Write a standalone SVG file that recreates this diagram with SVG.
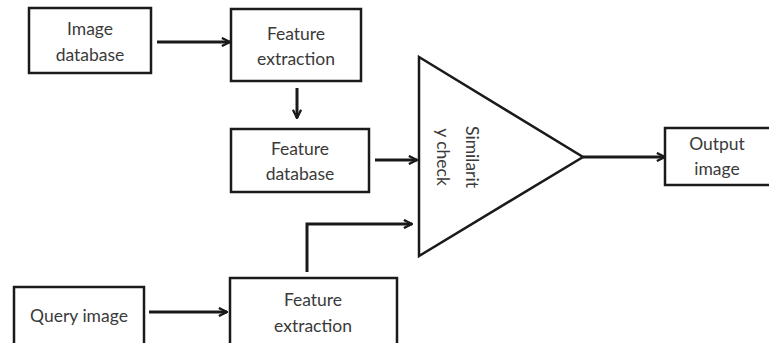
<svg xmlns="http://www.w3.org/2000/svg" width="769" height="343" viewBox="0 0 769 343">
  <style>
    .box { fill: #ffffff; stroke: #1a1a1a; stroke-width: 2.5; }
    .lbl { font-family: Lato, "Liberation Sans", sans-serif; font-size: 17.5px; fill: #3a3a3a; text-anchor: middle; }
    .wire { fill: none; stroke: #1a1a1a; stroke-width: 3; marker-end: url(#head); }
  </style>
  <defs>
    <marker id="head" viewBox="0 0 10 10" refX="9" refY="5" markerWidth="3.4" markerHeight="3.4" orient="auto" markerUnits="strokeWidth">
      <path d="M1,1 L9,5 L1,9" fill="none" stroke="#1a1a1a" stroke-width="2.2" stroke-linejoin="miter"/>
    </marker>
  </defs>
  <rect width="769" height="343" fill="#ffffff"/>

  <g id="image-database">
    <rect class="box" x="29" y="8" width="122" height="65"/>
    <text class="lbl" x="90" y="35">Image</text>
    <text class="lbl" x="90" y="61">database</text>
  </g>

  <g id="feature-extraction-top">
    <rect class="box" x="231" y="9" width="130" height="72"/>
    <text class="lbl" x="296" y="40">Feature</text>
    <text class="lbl" x="296" y="65">extraction</text>
  </g>

  <g id="feature-database">
    <rect class="box" x="231" y="129" width="138" height="63"/>
    <text class="lbl" x="300" y="155">Feature</text>
    <text class="lbl" x="300" y="180">database</text>
  </g>

  <g id="similarity-check">
    <polygon class="box" points="419,57 583,157 419,256" stroke-width="3" stroke-linejoin="miter"/>
    <g transform="translate(457,157) rotate(90)">
      <text class="lbl" x="0" y="-9">Similarit</text>
      <text class="lbl" x="0" y="20">y check</text>
    </g>
  </g>

  <g id="output-image">
    <rect class="box" x="665" y="128" width="110" height="57"/>
    <text class="lbl" x="717" y="150">Output</text>
    <text class="lbl" x="717" y="175">image</text>
  </g>

  <g id="query-image">
    <rect class="box" x="14" y="287" width="130" height="62"/>
    <text class="lbl" x="79" y="322">Query image</text>
  </g>

  <g id="feature-extraction-bottom">
    <rect class="box" x="230" y="278" width="167" height="70"/>
    <text class="lbl" x="313" y="306">Feature</text>
    <text class="lbl" x="313" y="332">extraction</text>
  </g>

  <g id="connectors">
    <path class="wire" d="M157,42 H230"/>
    <path class="wire" d="M297,88 V118"/>
    <path class="wire" d="M375,160 H417"/>
    <path class="wire" d="M307,272 V224 H412"/>
    <path class="wire" d="M583,157 H665"/>
    <path class="wire" d="M149,312 H227"/>
  </g>
</svg>
